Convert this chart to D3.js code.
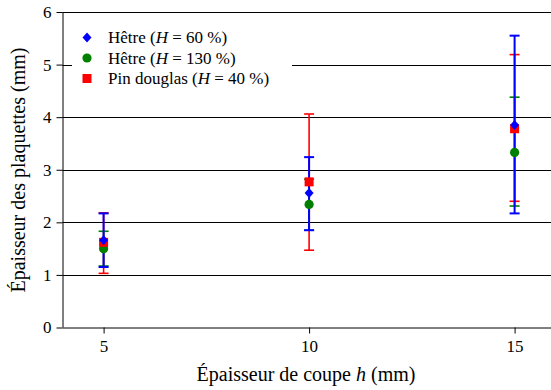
<!DOCTYPE html>
<html><head><meta charset="utf-8">
<script src="https://cdn.jsdelivr.net/npm/d3@7"></script>
<style>
@font-face{font-family:"ChartSerif";src:local("Liberation Serif"),local("LiberationSerif"),local("Liberation Serif Regular"),local("LiberationSerif-Regular");font-style:normal;font-weight:400}
@font-face{font-family:"ChartSerif";src:local("Liberation Serif Italic"),local("LiberationSerif-Italic");font-style:italic;font-weight:400}
</style>
</head><body style="margin:0"><svg id="c" width="551" height="390" style="display:block;background:#fff"></svg>
<script>
const xCats = [5, 10, 15];
const seriesNames = ["Hêtre", "Hêtre", "Pin douglas"];
const seriesH = ["60", "130", "40"];
const colors = ["#0000ff", "#008000", "#ff0000"];
const shapes = ["diamond", "circle", "square"];
const hetre60 = [1.66, 2.56, 3.85];
const hetre60Lo = [1.15, 1.85, 2.17];
const hetre60Hi = [2.17, 3.24, 5.55];
const hetre130 = [1.50, 2.34, 3.33];
const hetre130Lo = [1.17, 1.85, 2.31];
const hetre130Hi = [1.83, 2.82, 4.38];
const pin40 = [1.62, 2.77, 3.78];
const pin40Lo = [1.03, 1.47, 2.40];
const pin40Hi = [2.18, 4.06, 5.19];
const yTicks = [0, 1, 2, 3, 4, 5, 6];
const xTicks = [5, 10, 15];

const series = [
  {name: seriesNames[0], h: seriesH[0], color: colors[0], shape: shapes[0], v: hetre60, lo: hetre60Lo, hi: hetre60Hi},
  {name: seriesNames[1], h: seriesH[1], color: colors[1], shape: shapes[1], v: hetre130, lo: hetre130Lo, hi: hetre130Hi},
  {name: seriesNames[2], h: seriesH[2], color: colors[2], shape: shapes[2], v: pin40, lo: pin40Lo, hi: pin40Hi}
];

const FF = 'Liberation Serif';
const svg = d3.select("#c").attr("font-family", FF);
const L = 62.5, T = 12, B = 327.5;
const x = d3.scaleLinear().domain([4, 16]).range([L, L + 12 * 41.1]);
const y = d3.scaleLinear().domain([0, 6]).range([B, T]);

function serif(sel, size) {
  return sel.attr("font-family", FF).style("font-family", FF).style("font-size", size + "px").attr("font-size", size);
}

// gridlines
svg.append("g").selectAll("line").data(yTicks.filter(d => d > 0 && d < 6)).join("line")
  .attr("x1", L).attr("x2", 551).attr("y1", d => Math.round(y(d)) + 0.5).attr("y2", d => Math.round(y(d)) + 0.5)
  .attr("stroke", "#000").attr("stroke-width", 1);
// top border
svg.append("line").attr("x1", L).attr("x2", 551).attr("y1", T + 0.5).attr("y2", T + 0.5).attr("stroke", "#000");

// axes
const yAxis = d3.axisLeft(y).tickValues(yTicks).tickSize(6).tickPadding(5).tickFormat(d3.format("d"));
const gy = svg.append("g").attr("transform", `translate(${L},0)`).call(yAxis);
const xAxis = d3.axisBottom(x).tickValues(xTicks).tickSize(6).tickPadding(6).tickFormat(d3.format("d"));
const gx = svg.append("g").attr("transform", `translate(0,${B})`).call(xAxis);
gx.select(".domain").attr("d", `M${L},0.5H551`);
gy.select(".domain").attr("d", `M0.5,${T}V${B}`);
[gx, gy].forEach(g => {
  serif(g, 17);
  serif(g.selectAll("text"), 17).attr("fill", "#000");
  g.selectAll("line, path").attr("stroke", "#000");
});

// error bars: red, green, blue
const capW = 5;
[2, 1, 0].forEach(i => {
  const s = series[i];
  const g = svg.append("g").attr("stroke", s.color).attr("stroke-width", i === 0 ? 2 : 1.6);
  xCats.forEach((c, j) => {
    const cx = x(c);
    g.append("line").attr("x1", cx).attr("x2", cx).attr("y1", y(s.lo[j])).attr("y2", y(s.hi[j]));
    g.append("line").attr("x1", cx - capW).attr("x2", cx + capW).attr("y1", y(s.lo[j])).attr("y2", y(s.lo[j]));
    g.append("line").attr("x1", cx - capW).attr("x2", cx + capW).attr("y1", y(s.hi[j])).attr("y2", y(s.hi[j]));
  });
});

function marker(g, shape, cx, cy, color) {
  if (shape === "diamond") {
    g.append("path").attr("d", `M${cx},${cy - 5}L${cx + 4.5},${cy}L${cx},${cy + 5}L${cx - 4.5},${cy}Z`).attr("fill", color);
  } else if (shape === "circle") {
    g.append("circle").attr("cx", cx).attr("cy", cy).attr("r", 4.6).attr("fill", color);
  } else {
    g.append("rect").attr("x", cx - 4.5).attr("y", cy - 4.5).attr("width", 9).attr("height", 9).attr("fill", color);
  }
}

// markers: green, red, blue
[1, 2, 0].forEach(i => {
  const s = series[i];
  const g = svg.append("g");
  xCats.forEach((c, j) => marker(g, s.shape, x(c), y(s.v[j]), s.color));
});

// legend
const lg = svg.append("g");
lg.append("rect").attr("x", 72).attr("y", 22).attr("width", 220).attr("height", 70).attr("fill", "#fff");
series.forEach((s, i) => {
  const yy = 37.5 + i * 20.5;
  marker(lg, s.shape, 87, yy, s.color);
  const t = serif(lg.append("text"), 17).attr("x", 108).attr("y", yy + 5.5).attr("fill", "#000");
  t.append("tspan").text(s.name + " (");
  t.append("tspan").attr("font-style", "italic").text("H");
  t.append("tspan").text(" = " + s.h + " %)");
});

// axis titles
const xt = serif(svg.append("text"), 20).attr("x", 306).attr("y", 381).attr("text-anchor", "middle").attr("fill", "#000");
xt.append("tspan").text("Épaisseur de coupe ");
xt.append("tspan").attr("font-style", "italic").text("h");
xt.append("tspan").text(" (mm)");

serif(svg.append("text"), 20).attr("transform", "translate(25,170) rotate(-90)").attr("text-anchor", "middle").attr("fill", "#000")
  .text("Épaisseur des plaquettes (mm)");
</script></body></html>
